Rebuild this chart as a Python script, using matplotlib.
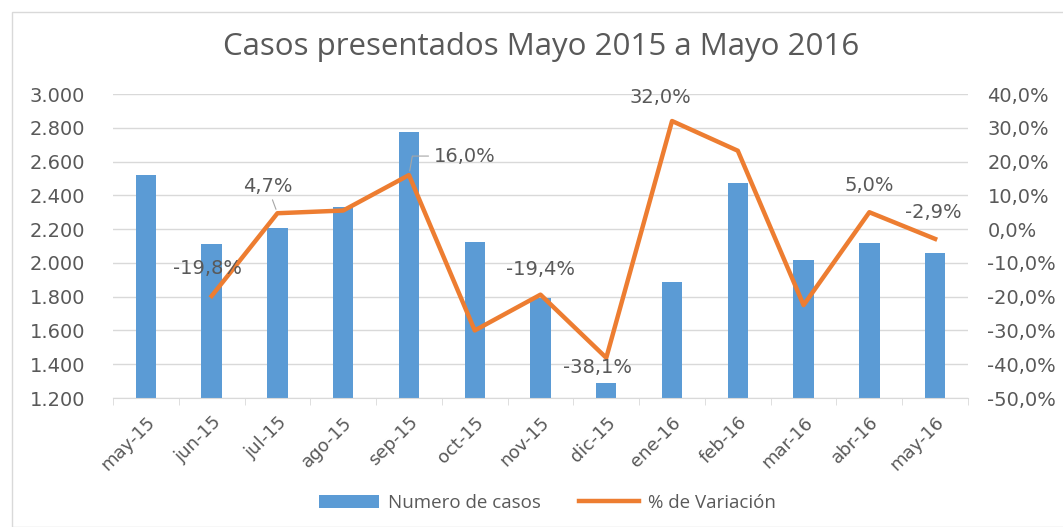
import numpy as np
import matplotlib
matplotlib.use("Agg")
import matplotlib.pyplot as plt
from matplotlib.patches import Rectangle
from matplotlib.ticker import FuncFormatter

# Data
meses = ['may-15', 'jun-15', 'jul-15', 'ago-15', 'sep-15', 'oct-15', 'nov-15',
         'dic-15', 'ene-16', 'feb-16', 'mar-16', 'abr-16', 'may-16']
casos = [2520, 2110, 2205, 2333, 2777, 2125, 1790, 1291, 1889, 2471, 2017, 2116, 2057]
variacion = [np.nan, -19.8, 4.7, 5.5, 16.0, -30.0, -19.4, -38.1, 32.0, 23.2, -22.5, 5.0, -2.9]

# which points get a data label, and label offset in pixels
etiquetas_idx = [1, 2, 4, 6, 7, 8, 11, 12]
offsets = {1: (-4, 27), 2: (-10, 27), 4: (56, 19), 6: (0, 25),
           7: (-9, -10), 8: (-12, 24), 11: (0, 27), 12: (-2, 26)}

azul = '#5B9BD5'
naranja = '#ED7D31'
gris = '#595959'

plt.rcParams['font.family'] = ['DejaVu Sans']

fig = plt.figure(figsize=(10.63, 5.27), dpi=100)
fig.patches.append(Rectangle((12 / 1063, 0), 1, 1 - 12 / 527, transform=fig.transFigure,
                             fill=False, edgecolor='#D9D9D9', linewidth=1))

ax = fig.add_axes([113 / 1063, 1 - 398 / 527, 855 / 1063, 304 / 527])
x = np.arange(len(meses))
ax.bar(x, casos, width=0.31, color=azul, zorder=2, label='Numero de casos')
ax.set_ylim(1200, 3000)
ax.set_yticks(np.arange(1200, 3001, 200))
ax.yaxis.set_major_formatter(FuncFormatter(lambda v, p: f'{int(v):,}'.replace(',', '.')))
ax.set_xlim(-0.5, len(meses) - 0.5)
ax.set_xticks(x)
ax.set_xticklabels(meses, rotation=45, ha='right', rotation_mode='anchor')
ax.set_xticks(np.arange(-0.5, len(meses)), minor=True)
ax.tick_params(axis='x', which='major', length=0, pad=11, labelsize=13, labelcolor=gris)
ax.tick_params(axis='x', which='minor', length=5, color='#D9D9D9')
ax.tick_params(axis='y', length=0, pad=20, labelsize=14, labelcolor=gris)
ax.grid(axis='y', color='#D9D9D9', linewidth=1, zorder=0)
ax.set_axisbelow(True)
for s in ['top', 'left', 'right']:
    ax.spines[s].set_visible(False)
ax.spines['bottom'].set_color('#D9D9D9')

ax2 = ax.twinx()
ax2.plot(x, variacion, color=naranja, linewidth=3.2, zorder=3, label='% de Variación')
ax2.set_ylim(-50, 40)
ax2.set_yticks(np.arange(-50, 41, 10))
ax2.yaxis.set_major_formatter(FuncFormatter(lambda v, p: f'{v:.1f}%'.replace('.', ',')))
ax2.tick_params(axis='y', length=0, pad=14, labelsize=14, labelcolor=gris)
for s in ['top', 'left', 'right', 'bottom']:
    ax2.spines[s].set_visible(False)

for i in etiquetas_idx:
    dx, dy = offsets[i]
    texto = f'{variacion[i]:.1f}%'.replace('.', ',')
    flecha = None
    if i == 2:
        flecha = dict(arrowstyle='-', color='#A6A6A6', lw=0.8, shrinkA=1, shrinkB=3)
    elif i == 4:
        flecha = dict(arrowstyle='-', color='#A6A6A6', lw=0.8, shrinkA=2, shrinkB=3,
                      connectionstyle='angle,angleA=0,angleB=80,rad=0')
    ax2.annotate(texto, (x[i], variacion[i]), xytext=(dx, dy), textcoords='offset pixels',
                 ha='center', va='center', fontsize=14, color=gris, arrowprops=flecha)

fig.text(541 / 1063, 1 - 47 / 527, 'Casos presentados Mayo 2015 a Mayo 2016', ha='center', va='center',
         fontsize=22.5, color=gris, family=['Open Sans', 'DejaVu Sans'])

h1, l1 = ax.get_legend_handles_labels()
h2, l2 = ax2.get_legend_handles_labels()
fig.legend(h1 + h2, l1 + l2, loc='center', bbox_to_anchor=(0.515, 1 - 503 / 527), ncol=2,
           frameon=False, labelcolor=gris, handlelength=3.2, handletextpad=0.5, columnspacing=2.0,
           prop={'family': ['Open Sans', 'DejaVu Sans'], 'size': 13.5})

fig.savefig('out.png', dpi=100)
